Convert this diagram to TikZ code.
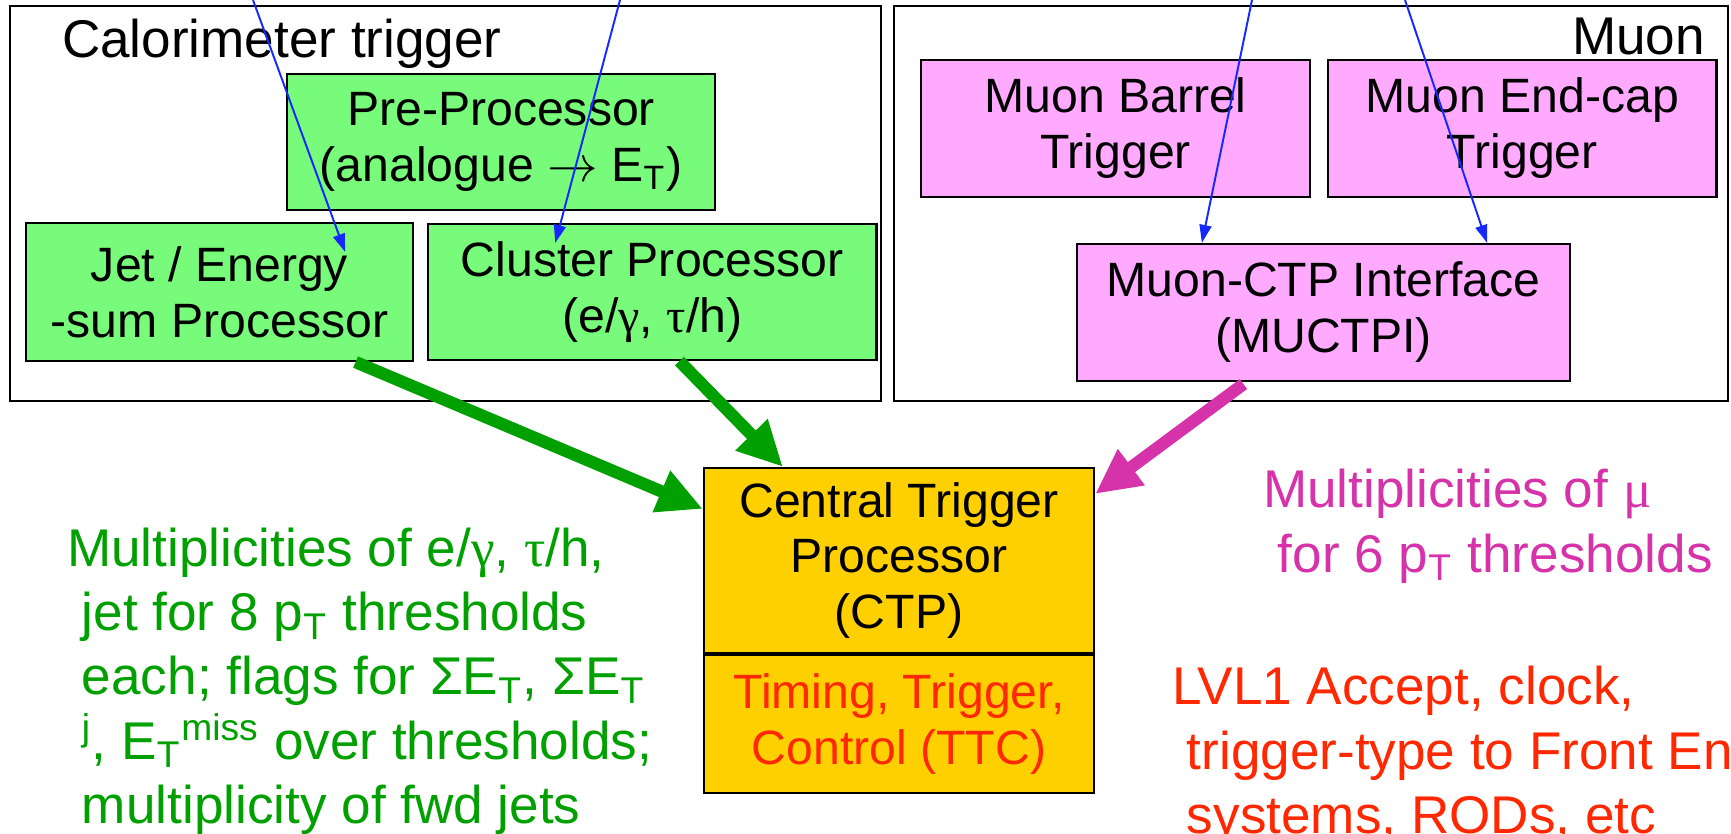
\documentclass[tikz,border=0pt]{standalone}
\usepackage{fontspec}
\setmainfont{Liberation Sans}
\newfontfamily\grk{Liberation Serif}
\usetikzlibrary{arrows.meta,positioning}

\definecolor{procgreen}{RGB}{120,250,122}
\definecolor{mupink}{RGB}{255,170,255}
\definecolor{ctpgold}{RGB}{255,208,0}
\definecolor{calogreen}{RGB}{0,160,0}
\definecolor{mumagenta}{RGB}{214,50,170}
\definecolor{ttcred}{RGB}{255,40,0}
\definecolor{feedblue}{RGB}{20,40,255}

\tikzset{
every picture/.style={
line width=0.6pt
}}

\newcommand{\indentsp}{\hspace*{0.28em}}

\begin{document}
\begin{tikzpicture}[x=0.01cm,y=-0.01cm,
  frame/.style={draw,inner sep=0pt,minimum height=3.95cm},
  title/.style={inner sep=0pt,font=\fontsize{15.1}{18.2}\selectfont},
  box/.style={draw,align=center,inner sep=0pt,minimum height=1.37cm,font=\fontsize{13.7}{15.9}\selectfont},
  calo/.style={box,fill=procgreen},
  mu/.style={box,fill=mupink},
  ctpbox/.style={box,fill=ctpgold,minimum width=3.9cm},
  feed/.style={-{Triangle[length=0.18cm,width=0.12cm]},draw=feedblue,line width=0.55pt},
  fat/.style={-{Triangle[length=0.45cm,width=0.42cm]},line width=3.5pt},
  note/.style={align=left,inner sep=0pt,anchor=base west,font=\fontsize{15.1}{18.2}\selectfont}]

\useasboundingbox (0,0) rectangle (1731,834);

% the two trigger systems
\node[frame,minimum width=8.71cm] (caloframe) at (445.5,203.5) {};
\node[frame,minimum width=8.34cm] (muonframe) at (1311,203.5) {};
\node[title,anchor=base west] (calotitle) at (61,58) {Calorimeter trigger};
\node[title,anchor=base east] (muontitle) at (1706,55) {Muon};

\node[calo,minimum width=4.28cm,minimum height=1.36cm] (pre) at (501,142) {Pre-Processor\\(analogue $\rightarrow$ E\textsubscript{T})};
\node[calo,minimum width=3.87cm,minimum height=1.38cm] (jet) at (219.5,292) {Jet / Energy\\-sum Processor};
\node[calo,minimum width=4.48cm,minimum height=1.36cm] (cluster) [right=0.13cm of jet] {Cluster Processor\\(e/{\grk γ}, {\grk τ}/h)};

\node[mu,minimum width=3.89cm] (barrel) at (1115.5,128.5) {Muon Barrel\\Trigger};
\node[mu,minimum width=3.88cm] (endcap) [right=0.16cm of barrel] {Muon End-cap\\Trigger};
\node[mu,minimum width=4.93cm] (muctpi) at (1323.5,312.5) {Muon-CTP Interface\\(MUCTPI)};

% CTP with the TTC part underneath
\node[ctpbox,minimum height=1.85cm] (ctp) at (899,560.5) {Central Trigger\\Processor\\(CTP)};
\node[ctpbox,minimum height=1.38cm,text=ttcred] (ttc) [below=0pt of ctp] {Timing, Trigger,\\Control (TTC)};

% inputs from the detectors
\coordinate (jetin) at (253,0);
\coordinate (clusterin) at (620,0);
\coordinate (barrelin) at (1252,0);
\coordinate (endcapin) at (1405,0);

\draw[feed] (jetin) -- ([xshift=-0.69cm,yshift=-0.3cm]jet.north east);
\draw[feed] (clusterin) -- ([xshift=1.28cm,yshift=-0.2cm]cluster.north west);
\draw[feed] (barrelin) -- ([xshift=1.26cm]muctpi.north west);
\draw[feed] (endcapin) -- ([xshift=4.11cm]muctpi.north west);

% multiplicities sent to the CTP
\draw[fat,calogreen] ([xshift=1.36cm]jet.south) -- ([yshift=-0.42cm]ctp.north west);
\draw[fat,calogreen] ([xshift=0.27cm]cluster.south) -- ([xshift=0.8cm]ctp.north west);
\draw[fat,mumagenta] ([xshift=-0.8cm,yshift=-0.02cm]muctpi.south) -- ([yshift=-0.27cm]ctp.north east);

% base anchor sits on the last line
\node[note,text=calogreen] (calonote) at (66,823) {Multiplicities of e/{\grk γ}, {\grk τ}/h,\\
\indentsp jet for 8 p\textsubscript{T} thresholds\\
\indentsp each; flags for ΣE\textsubscript{T}, ΣE\textsubscript{T}\\
\indentsp\textsuperscript{j}, E\textsubscript{T}\textsuperscript{miss} over thresholds;\\
\indentsp multiplicity of fwd jets};
\node[note,text=mumagenta] (muonnote) at (1262,572) {Multiplicities of {\grk μ}\\
\indentsp for 6 p\textsubscript{T} thresholds};
\node[note,text=ttcred] (ttcnote) at (1171,833) {LVL1 Accept, clock,\\
\indentsp trigger-type to Front End\\
\indentsp systems, RODs, etc};
\end{tikzpicture}
\end{document}
